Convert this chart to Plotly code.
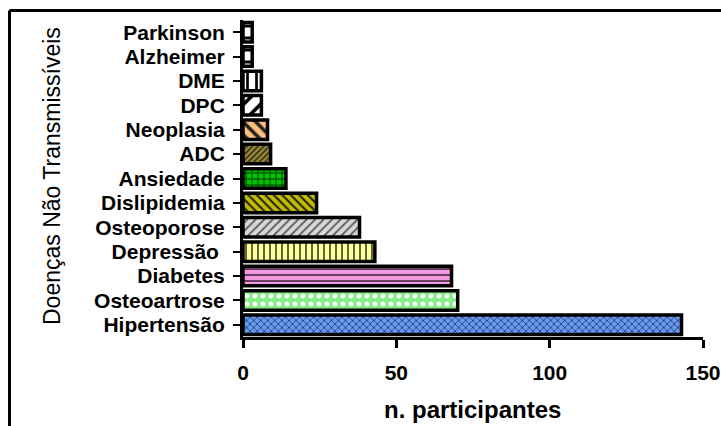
import plotly.graph_objects as go

categories = ["Hipertensão", "Osteoartrose", "Diabetes", "Depressão ", "Osteoporose",
              "Dislipidemia", "Ansiedade", "ADC", "Neoplasia", "DPC", "DME",
              "Alzheimer", "Parkinson"]
participants = [143, 70, 68, 43, 38, 24, 14, 9, 8, 6, 6, 3, 3]
x_ticks = [0, 50, 100, 150]

bg_colors = ["#6a9bea", "#86ec86", "#f59ae2", "#ffff99", "#d8d8d8", "#c4bc00",
             "#00c400", "#a08c34", "#ffbf80", "#ffffff", "#ffffff", "#ffffff", "#ffffff"]
fg_colors = ["#1a3580", "#ffffff", "#553355", "#555533", "#555555", "#222200",
             "#003300", "#2a2a18", "#222222", "#000000", "#000000", "#000000", "#000000"]
shapes = ["x", ".", "-", "|", "/", "\\", "+", "/", "\\", "/", "|", "-", "-"]
sizes = [5, 8, 6, 6, 6, 6, 6, 4, 9, 12, 9, 12, 12]
solid = [0.3, 0.3, 0.3, 0.3, 0.3, 0.35, 0.3, 0.4, 0.4, 0.3, 0.3, 0.25, 0.25]

L, R, T, B = 243, 18, 20, 89
W, H = 721, 426
pw, ph = W - L - R, H - T - B

fig = go.Figure()
for cat, val, bg, fg, shp, sz, so in zip(categories, participants, bg_colors, fg_colors,
                                         shapes, sizes, solid):
    fig.add_trace(go.Bar(
        x=[val], y=[cat], orientation="h", width=0.8, name=cat,
        marker=dict(color=bg, line=dict(color="black", width=3.5),
                    pattern=dict(shape=shp, fgcolor=fg, bgcolor=bg, size=sz,
                                 solidity=so, fillmode="replace")),
        showlegend=False,
    ))

font_family = "Liberation Sans, Arial, sans-serif"
fig.update_layout(
    width=W, height=H, margin=dict(l=L, r=R, t=T, b=B, autoexpand=False),
    paper_bgcolor="white", plot_bgcolor="white", barmode="overlay",
    font=dict(family=font_family, color="black"),
)
fig.update_xaxes(range=[0, 150], tickvals=x_ticks, ticktext=[str(v) for v in x_ticks],
                 showgrid=False, zeroline=False, showline=True, linecolor="black",
                 linewidth=3, ticks="outside", ticklen=8, tickwidth=3, tickcolor="black",
                 tickfont=dict(size=21, family=font_family, weight="bold"),
                 ticklabelstandoff=7, automargin=False)
fig.update_yaxes(range=[-0.5, 12.5], categoryorder="array", categoryarray=categories,
                 tickmode="array", tickvals=categories, ticktext=categories,
                 showgrid=False, zeroline=False, showline=True, linecolor="black",
                 linewidth=3, ticks="outside", ticklen=7, tickwidth=2, tickcolor="black",
                 tickfont=dict(size=21, family=font_family, weight="bold"),
                 ticklabelstandoff=4, automargin=False)

# Axis titles
fig.add_annotation(text="n. participantes", xref="paper", yref="paper",
                   x=(472 - L) / pw, y=-(410 - (T + ph)) / ph, showarrow=False,
                   font=dict(size=24, family=font_family, weight="bold"),
                   xanchor="center", yanchor="middle")
fig.add_annotation(text="Doenças Não Transmissíveis", xref="paper", yref="paper",
                   x=(52 - L) / pw, y=1 - (176 - T) / ph, showarrow=False, textangle=-90,
                   font=dict(size=23, family=font_family),
                   xanchor="center", yanchor="middle")

# Outer frame (top and left edges)
fx0 = (9.5 - L) / pw
fx1 = (721 - L) / pw
fy_top = 1 + (T - 10.5) / ph
fy_bot = 1 + (T - 430) / ph
fig.add_shape(type="line", xref="paper", yref="paper", x0=fx0, x1=fx1, y0=fy_top, y1=fy_top,
              line=dict(color="black", width=3))
fig.add_shape(type="line", xref="paper", yref="paper", x0=fx0, x1=fx0, y0=fy_top, y1=fy_bot,
              line=dict(color="black", width=3))

fig.write_html("out.html", config={"displayModeBar": False},
               post_script="document.body.style.margin='0px';document.body.style.overflow='hidden';")
